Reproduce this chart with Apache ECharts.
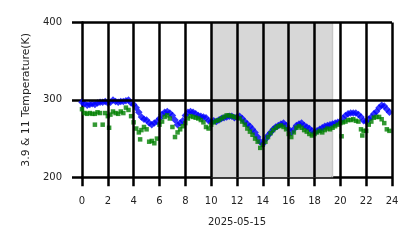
<!DOCTYPE html>
<html><head><meta charset="utf-8">
<script src="https://cdn.jsdelivr.net/npm/echarts@6/dist/echarts.min.js"></script>
<style>html,body{margin:0;padding:0;background:#fff}#c{width:418px;height:248px}</style>
</head><body><div id="c"></div>
<script>
// Hours of the day (x) and brightness temperatures (K)
const blueTimes = [0,0.2,0.4,0.6,0.8,1.0,1.2,1.4,1.6,1.8,2.0,2.2,2.4,2.6,2.8,3.0,3.2,3.4,3.6,3.8,4.0,4.2,4.4,4.6,4.8,5.0,5.2,5.4,5.6,5.8,6.0,6.2,6.4,6.6,6.8,7.0,7.2,7.4,7.6,7.8,8.0,8.2,8.4,8.6,8.8,9.0,9.2,9.4,9.6,9.8,10.0,10.2,10.4,10.6,10.8,11.0,11.2,11.4,11.6,11.8,12.0,12.2,12.4,12.6,12.8,13.0,13.2,13.4,13.6,13.8,14.0,14.2,14.4,14.6,14.8,15.0,15.2,15.4,15.6,15.8,16.0,16.2,16.4,16.6,16.8,17.0,17.2,17.4,17.6,17.8,18.0,18.2,18.4,18.6,18.8,19.0,19.2,19.4,19.6,19.8,20.0,20.2,20.4,20.6,20.8,21.0,21.2,21.4,21.6,21.8,22.0,22.2,22.4,22.6,22.8,23.0,23.2,23.4,23.6,23.8];
const blueValues = [297,295,293,294,295,294,296,297,297,298,296,297,300,298,297,298,298,299,300,296,294,290,284,278,275,274,270,268,270,272,276,281,284,285,283,280,274,268,270,273,280,284,285,284,282,280,279,278,277,273,272,273,272,274,276,277,278,279,279,277,278,279,276,272,269,266,262,258,252,246,243,249,254,258,262,265,267,269,270,267,262,258,262,267,269,270,267,265,263,260,258,260,262,264,266,267,268,269,270,271,272,276,280,282,283,283,283,281,278,273,272,275,278,282,285,290,293,292,288,284];
const greenTimes = [0,0.2,0.4,0.6,0.8,1.0,1.0,1.2,1.4,1.6,1.8,2.0,2.1,2.2,2.4,2.6,2.8,3.0,3.2,3.4,3.6,3.8,4.0,4.2,4.4,4.5,4.6,4.8,5.0,5.2,5.4,5.6,5.8,6.0,6.2,6.4,6.6,6.8,7.0,7.2,7.4,7.6,7.8,8.0,8.2,8.4,8.6,8.8,9.0,9.2,9.4,9.6,9.8,10.0,10.2,10.4,10.6,10.8,11.0,11.2,11.4,11.6,11.8,12.0,12.2,12.4,12.6,12.8,13.0,13.2,13.4,13.6,13.8,14.0,14.2,14.4,14.6,14.8,15.0,15.2,15.4,15.6,15.8,16.0,16.2,16.4,16.6,16.8,17.0,17.2,17.4,17.6,17.8,18.0,18.2,18.4,18.6,18.8,19.0,19.2,19.4,19.6,19.8,20.0,20.1,20.2,20.4,20.6,20.8,21.0,21.2,21.4,21.6,21.7,21.8,22.0,22.2,22.4,22.6,22.8,23.0,23.2,23.4,23.6,23.8];
const greenValues = [288,283,282,283,282,282,268,284,283,268,283,279,264,281,285,283,282,285,283,290,287,279,271,263,258,249,261,265,262,246,247,244,250,268,272,278,280,276,265,252,258,262,266,270,276,279,278,277,276,274,271,265,263,268,271,273,274,276,278,280,280,279,278,277,276,272,268,263,259,255,250,246,238,242,246,252,257,261,264,266,267,265,262,256,252,258,264,266,264,261,259,256,254,256,258,260,258,261,263,262,264,266,268,270,253,271,272,274,274,275,273,272,262,254,260,260,268,272,277,278,278,275,270,262,260];
const xTicks = [0,2,4,6,8,10,12,14,16,18,20,22,24];
const yLines = [300,400];
const shadeMain = [10,19.3];
const shadeEdge = [19.3,19.45];

const pair = (t, v) => t.map((x, i) => [x, v[i]]);
const chart = echarts.init(document.getElementById('c'), null, {renderer:'canvas'});
const lineStyleK = {color:'#000', width:2.5, type:'solid'};
chart.setOption({
  animation:false,
  backgroundColor:'#fff',
  grid:{left:82, right:26, top:22.5, bottom:70.7, containLabel:false},
  xAxis:{type:'value', min:0, max:24, interval:2,
    name:'2025-05-15', nameLocation:'middle', nameGap:40,
    nameTextStyle:{fontFamily:'DejaVu Sans', fontSize:10, color:'#222'},
    axisLine:{lineStyle:{color:'#000', width:2.5}},
    axisTick:{length:9, lineStyle:{color:'#000', width:2.5}},
    axisLabel:{margin:19, fontFamily:'DejaVu Sans', fontSize:10, color:'#222'},
    splitLine:{show:false}},
  yAxis:{type:'value', min:200, max:400, interval:100,
    name:'3.9 & 11 Temperature(K)', nameLocation:'middle', nameGap:44,
    nameTextStyle:{fontFamily:'DejaVu Sans', fontSize:10.8, color:'#222'},
    axisLine:{show:true, lineStyle:{color:'#000', width:2.5}},
    axisTick:{show:true, length:10, lineStyle:{color:'#000', width:2.5}},
    axisLabel:{margin:20, fontFamily:'DejaVu Sans', fontSize:10, color:'#222'},
    splitLine:{show:false}},
  series:[
    {type:'scatter', name:'11', data:pair(blueTimes, blueValues), symbol:'diamond', symbolSize:7.5,
      itemStyle:{color:'#0000ff'}, z:3,
      markArea:{silent:true, z:1, data:[
        [{xAxis:shadeMain[0], itemStyle:{color:'#d7d7d7'}},{xAxis:shadeMain[1]}],
        [{xAxis:shadeEdge[0], itemStyle:{color:'#c6c6c6'}},{xAxis:shadeEdge[1]}]
      ]}},
    {type:'scatter', name:'3.9', data:pair(greenTimes, greenValues), symbol:'rect', symbolSize:4.5,
      itemStyle:{color:'#008000'}, z:4},
    {type:'line', data:[], z:10,
      markLine:{silent:true, symbol:'none', label:{show:false}, lineStyle:lineStyleK,
        data: xTicks.slice(1).map(v=>({xAxis:v})).concat(yLines.map(v=>({yAxis:v})))}}
  ]
});
</script></body></html>
